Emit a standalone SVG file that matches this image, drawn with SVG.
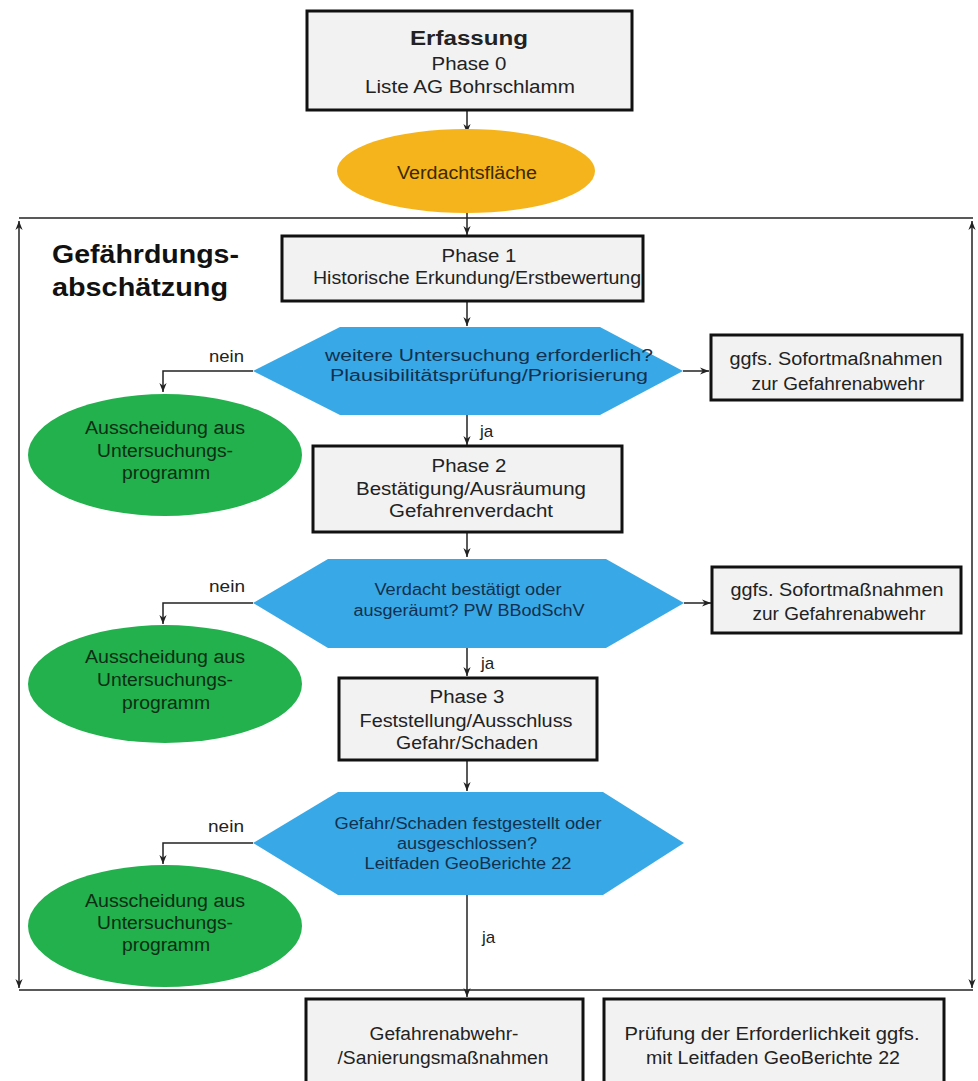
<svg xmlns="http://www.w3.org/2000/svg" width="978" height="1081" viewBox="0 0 978 1081">
  <style>
    text { font-family: "Liberation Sans", Arial, sans-serif; font-size: 18px; text-anchor: middle; fill: #222; lengthAdjust: spacingAndGlyphs; }
    .box { fill: #f2f2f2; stroke: #111; stroke-width: 3; }
    .dec { fill: #38a9e6; }
    .dec-t { fill: #12304f; font-size: 16px; }
    .out { fill: #22b14c; }
    .out-t { fill: #0c2e14; }
    .sus { fill: #f5b41c; }
    .sus-t { fill: #3a2a00; }
    .head { font-weight: bold; font-size: 25px; text-anchor: start; fill: #111; }
    .lbl { font-size: 17px; text-anchor: start; }
    .wire { fill: none; stroke: #222; stroke-width: 1.5; }
    .frame { fill: none; stroke: #222; stroke-width: 1.5; }
  </style>
  <defs>
    <marker id="arr" viewBox="0 0 10 10" refX="10" refY="5" markerWidth="9" markerHeight="9" markerUnits="userSpaceOnUse" orient="auto-start-reverse">
      <path d="M0,1 L10,5 L0,9 L3,5 z" fill="#222"/>
    </marker>
  </defs>

  <rect width="978" height="1081" fill="#fff"/>

  <!-- connectors and the assessment frame -->
  <g id="connectors">
    <path class="frame" d="M19,218 H973"/>
    <path class="frame" d="M19,990 H973"/>
    <path class="frame" d="M19,221 V988" marker-start="url(#arr)" marker-end="url(#arr)"/>
    <path class="frame" d="M972,221 V988" marker-start="url(#arr)" marker-end="url(#arr)"/>

    <path class="wire" d="M467,110 V133" marker-end="url(#arr)"/>
    <path class="wire" d="M467,213 V235" marker-end="url(#arr)"/>
    <path class="wire" d="M467,302 V326" marker-end="url(#arr)"/>
    <path class="wire" d="M253,371 H163 V392" marker-end="url(#arr)"/>
    <path class="wire" d="M683,371 H709" marker-end="url(#arr)"/>
    <path class="wire" d="M467,415 V445" marker-end="url(#arr)"/>
    <path class="wire" d="M467,532 V557" marker-end="url(#arr)"/>
    <path class="wire" d="M253,603 H163 V624" marker-end="url(#arr)"/>
    <path class="wire" d="M684,603 H711" marker-end="url(#arr)"/>
    <path class="wire" d="M467,648 V676" marker-end="url(#arr)"/>
    <path class="wire" d="M467,760 V791" marker-end="url(#arr)"/>
    <path class="wire" d="M253,843 H163 V864" marker-end="url(#arr)"/>
    <path class="wire" d="M467,895 V997" marker-end="url(#arr)"/>

    <text class="lbl" x="209" y="362" textLength="35" lengthAdjust="spacingAndGlyphs">nein</text>
    <text class="lbl" x="480" y="437">ja</text>
    <text class="lbl" x="209" y="592" textLength="36" lengthAdjust="spacingAndGlyphs">nein</text>
    <text class="lbl" x="481" y="669">ja</text>
    <text class="lbl" x="208" y="832" textLength="36" lengthAdjust="spacingAndGlyphs">nein</text>
    <text class="lbl" x="482" y="943">ja</text>
  </g>

  <g id="heading">
    <text class="head" x="52" y="263" textLength="187" lengthAdjust="spacingAndGlyphs">Gefährdungs-</text>
    <text class="head" x="52" y="296" textLength="176" lengthAdjust="spacingAndGlyphs">abschätzung</text>
  </g>

  <g id="erfassung">
    <rect class="box" x="307" y="11" width="325" height="99"/>
    <text x="469" y="45" style="font-weight:bold;font-size:20px" textLength="118" lengthAdjust="spacingAndGlyphs">Erfassung</text>
    <text x="469" y="70" textLength="75" lengthAdjust="spacingAndGlyphs">Phase 0</text>
    <text x="470" y="93" textLength="210" lengthAdjust="spacingAndGlyphs">Liste AG Bohrschlamm</text>
  </g>

  <g id="verdachtsflaeche">
    <ellipse class="sus" cx="466" cy="171" rx="129" ry="42"/>
    <text class="sus-t" x="467" y="179" textLength="140" lengthAdjust="spacingAndGlyphs">Verdachtsfläche</text>
  </g>

  <g id="phase1">
    <rect class="box" x="282" y="236" width="361" height="65"/>
    <text x="479" y="262" textLength="75" lengthAdjust="spacingAndGlyphs">Phase 1</text>
    <text x="477" y="284" textLength="328" lengthAdjust="spacingAndGlyphs">Historische Erkundung/Erstbewertung</text>
  </g>

  <g id="decision1">
    <polygon class="dec" points="253,371 340,327 600,327 683,371 600,415 340,415"/>
    <text class="dec-t" x="489" y="361" textLength="328" lengthAdjust="spacingAndGlyphs">weitere Untersuchung erforderlich?</text>
    <text class="dec-t" x="489" y="381" textLength="318" lengthAdjust="spacingAndGlyphs">Plausibilitätsprüfung/Priorisierung</text>
  </g>

  <g id="sofort1">
    <rect class="box" x="711" y="335" width="251" height="65"/>
    <text x="836" y="365" textLength="213" lengthAdjust="spacingAndGlyphs">ggfs. Sofortmaßnahmen</text>
    <text x="838" y="390" textLength="173" lengthAdjust="spacingAndGlyphs">zur Gefahrenabwehr</text>
  </g>

  <g id="ausscheidung1">
    <ellipse class="out" cx="165" cy="455" rx="137" ry="61"/>
    <text class="out-t" x="165" y="434" textLength="160" lengthAdjust="spacingAndGlyphs">Ausscheidung aus</text>
    <text class="out-t" x="165" y="457" textLength="136" lengthAdjust="spacingAndGlyphs">Untersuchungs-</text>
    <text class="out-t" x="166" y="479" textLength="88" lengthAdjust="spacingAndGlyphs">programm</text>
  </g>

  <g id="phase2">
    <rect class="box" x="313" y="446" width="309" height="86"/>
    <text x="469" y="472" textLength="75" lengthAdjust="spacingAndGlyphs">Phase 2</text>
    <text x="471" y="495" textLength="230" lengthAdjust="spacingAndGlyphs">Bestätigung/Ausräumung</text>
    <text x="471" y="517" textLength="164" lengthAdjust="spacingAndGlyphs">Gefahrenverdacht</text>
  </g>

  <g id="decision2">
    <polygon class="dec" points="253,603 328,559 606,559 684,603 606,648 328,648"/>
    <text class="dec-t" x="468" y="595" textLength="187" lengthAdjust="spacingAndGlyphs">Verdacht bestätigt oder</text>
    <text class="dec-t" x="469" y="616" textLength="231" lengthAdjust="spacingAndGlyphs">ausgeräumt? PW BBodSchV</text>
  </g>

  <g id="sofort2">
    <rect class="box" x="712" y="567" width="249" height="66"/>
    <text x="837" y="596" textLength="213" lengthAdjust="spacingAndGlyphs">ggfs. Sofortmaßnahmen</text>
    <text x="839" y="620" textLength="173" lengthAdjust="spacingAndGlyphs">zur Gefahrenabwehr</text>
  </g>

  <g id="ausscheidung2">
    <ellipse class="out" cx="165" cy="684" rx="137" ry="59"/>
    <text class="out-t" x="165" y="663" textLength="160" lengthAdjust="spacingAndGlyphs">Ausscheidung aus</text>
    <text class="out-t" x="165" y="686" textLength="136" lengthAdjust="spacingAndGlyphs">Untersuchungs-</text>
    <text class="out-t" x="166" y="709" textLength="88" lengthAdjust="spacingAndGlyphs">programm</text>
  </g>

  <g id="phase3">
    <rect class="box" x="339" y="678" width="258" height="82"/>
    <text x="467" y="703" textLength="75" lengthAdjust="spacingAndGlyphs">Phase 3</text>
    <text x="466" y="727" textLength="213" lengthAdjust="spacingAndGlyphs">Feststellung/Ausschluss</text>
    <text x="467" y="749" textLength="142" lengthAdjust="spacingAndGlyphs">Gefahr/Schaden</text>
  </g>

  <g id="decision3">
    <polygon class="dec" points="253,843 338,792 603,792 684,843 603,895 338,895"/>
    <text class="dec-t" x="468" y="829" textLength="267" lengthAdjust="spacingAndGlyphs">Gefahr/Schaden festgestellt oder</text>
    <text class="dec-t" x="467" y="849" textLength="140" lengthAdjust="spacingAndGlyphs">ausgeschlossen?</text>
    <text class="dec-t" x="468" y="869" textLength="207" lengthAdjust="spacingAndGlyphs">Leitfaden GeoBerichte 22</text>
  </g>

  <g id="ausscheidung3">
    <ellipse class="out" cx="165" cy="926" rx="137" ry="61"/>
    <text class="out-t" x="165" y="907" textLength="160" lengthAdjust="spacingAndGlyphs">Ausscheidung aus</text>
    <text class="out-t" x="165" y="929" textLength="136" lengthAdjust="spacingAndGlyphs">Untersuchungs-</text>
    <text class="out-t" x="166" y="951" textLength="88" lengthAdjust="spacingAndGlyphs">programm</text>
  </g>

  <g id="sanierung">
    <rect class="box" x="306" y="999" width="277" height="90"/>
    <text x="444" y="1040" textLength="149" lengthAdjust="spacingAndGlyphs">Gefahrenabwehr-</text>
    <text x="443" y="1064" textLength="211" lengthAdjust="spacingAndGlyphs">/Sanierungsmaßnahmen</text>
  </g>

  <g id="pruefung">
    <rect class="box" x="604" y="999" width="340" height="90"/>
    <text x="772" y="1040" textLength="295" lengthAdjust="spacingAndGlyphs">Prüfung der Erforderlichkeit ggfs.</text>
    <text x="773" y="1064" textLength="254" lengthAdjust="spacingAndGlyphs">mit Leitfaden GeoBerichte 22</text>
  </g>
</svg>
